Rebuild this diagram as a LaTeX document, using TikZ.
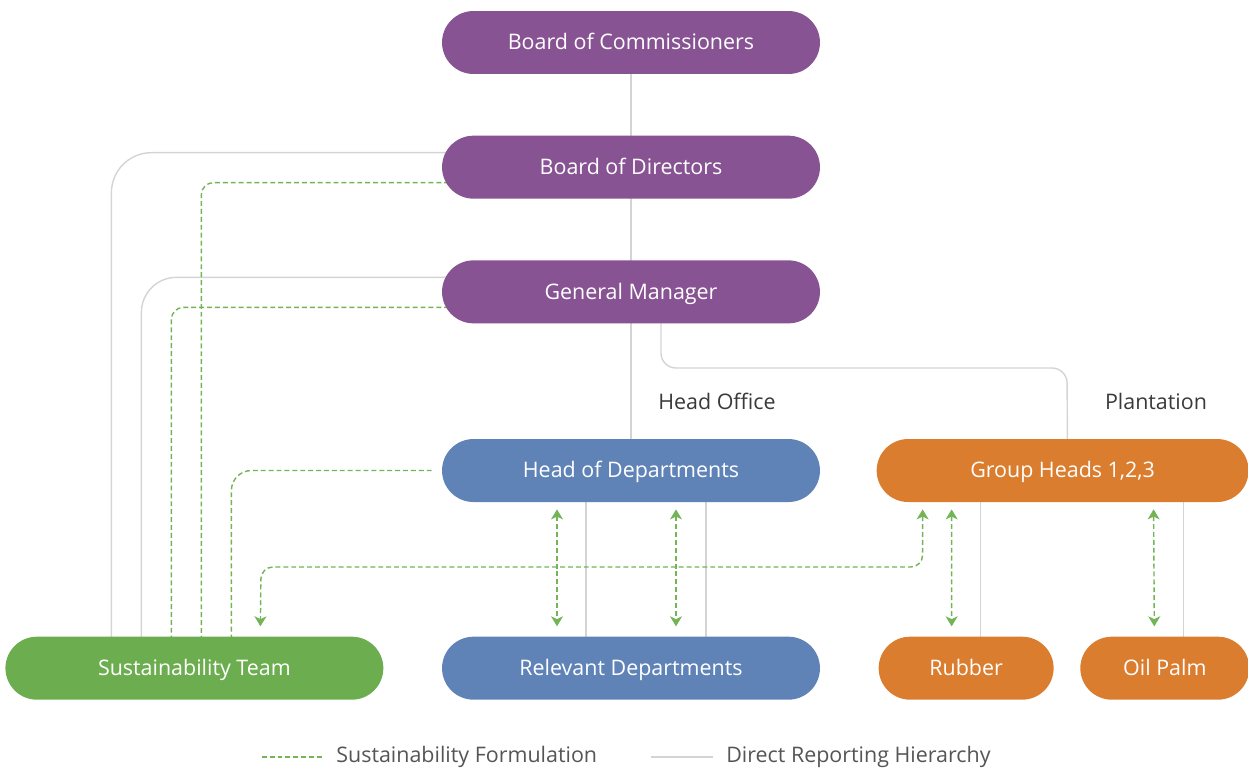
\documentclass[tikz,border=0pt]{standalone}
\usepackage{fontspec}
\setmainfont{Open Sans}
\usetikzlibrary{arrows.meta, positioning, backgrounds}
\definecolor{boardpurple}{HTML}{875393}
\definecolor{officeblue}{HTML}{6083B7}
\definecolor{estateorange}{HTML}{DB7D2E}
\definecolor{teamgreen}{HTML}{6CAD50}
\definecolor{formgreen}{HTML}{72B456}
\definecolor{reportgray}{HTML}{D4D4D4}
\definecolor{labelgray}{HTML}{3A3A3A}
\definecolor{legendgray}{HTML}{555555}
\tikzset{%
    unitbox/.style = {rectangle, rounded corners=0.63cm, inner sep=0pt,
        minimum height=1.26cm, minimum width=7.56cm, text=white,
        text height=1.08em, text depth=0.24em,
        font=\fontsize{12.2}{14}\selectfont},
    board/.style = {unitbox, fill=boardpurple},
    office/.style = {unitbox, fill=officeblue},
    estate/.style = {unitbox, fill=estateorange},
    team/.style = {unitbox, fill=teamgreen},
    reportline/.style = {draw=reportgray, line width=0.8pt},
    formline/.style = {draw=formgreen, line width=0.8pt, dash pattern=on 2.8pt off 1.7pt},
    twoway/.style = {{Stealth[length=5.7pt, width=6.8pt, inset=1.6pt]}-{Stealth[length=5.7pt, width=6.8pt, inset=1.6pt]}},
    sidelabel/.style = {text=labelgray, font=\fontsize{12.2}{14}\selectfont},
    legendtext/.style = {text=legendgray, inner sep=0pt, anchor=west,
        font=\fontsize{12.2}{14}\selectfont},
}
\begin{document}
\begin{tikzpicture}[x=0.02cm, y=-0.02cm]
    \useasboundingbox (0,0) rectangle (1248,770);
    \node [board] (boc) at (631,42.5) {Board of Commissioners};
    \node [board, below=1.22cm of boc] (bod) {Board of Directors};
    \node [board, below=1.22cm of bod] (gm) {General Manager};
    \node [office, below=2.3cm of gm] (hod) {Head of Departments};
    \node [office, below=2.68cm of hod] (rd) {Relevant Departments};
    \node [estate, minimum width=7.44cm, right=1.12cm of hod] (gh) {Group Heads 1,2,3};
    \node [team, left=1.16cm of rd] (sust) {Sustainability Team};
    \node [estate, minimum width=3.5cm, right=1.16cm of rd] (rubber) {Rubber};
    \node [estate, minimum width=3.38cm, right=0.52cm of rubber] (palm) {Oil Palm};
    \node [sidelabel] (hoff) at (717,401) {Head Office};
    \node [sidelabel] (plant) at (1156,401) {Plantation};

    % reporting lines, behind the boxes
    \begin{scope}[on background layer]
    \draw [reportline] (boc) -- (hod);
    \draw [reportline, rounded corners=0.8cm] ([yshift=0.29cm]bod.center) -| ([xshift=-1.66cm]sust.center);
    \draw [reportline, rounded corners=0.7cm] ([yshift=0.29cm]gm.center) -| ([xshift=-1.06cm]sust.center);
    \draw [reportline, rounded corners=0.3cm] ([xshift=0.6cm]gm.center) |- (1067,368) -- ([xshift=0.1cm]gh.center);
    \draw [reportline] ([xshift=-0.9cm]hod.center) -- ([xshift=-0.9cm]rd.center);
    \draw [reportline] ([xshift=1.5cm]hod.center) -- ([xshift=1.5cm]rd.center);
    \draw [reportline] ([xshift=-1.64cm]gh.center) |- (rubber.center);
    \draw [reportline] ([xshift=2.42cm]gh.center) |- (palm.center);
    % sustainability lines into the team
    \draw [formline, rounded corners=0.24cm] ([yshift=-0.31cm]bod.center) -| ([xshift=0.14cm]sust.center);
    \draw [formline, rounded corners=0.24cm] ([yshift=-0.31cm]gm.center) -| ([xshift=-0.46cm]sust.center);
    \draw [formline, rounded corners=0.4cm] ([xshift=-0.2cm]hod.west) -| ([xshift=0.74cm]sust.center);
    \end{scope}

    % two-way formulation arrows
    \draw [formline, twoway] ([xshift=-1.48cm, yshift=-0.14cm]hod.south) -- ([xshift=-1.48cm, yshift=0.2cm]rd.north);
    \draw [formline, twoway] ([xshift=0.9cm, yshift=-0.14cm]hod.south) -- ([xshift=0.9cm, yshift=0.2cm]rd.north);
    \draw [formline, twoway] ([xshift=-2.22cm, yshift=-0.14cm]gh.south) -- ([xshift=-0.29cm, yshift=0.2cm]rubber.north);
    \draw [formline, twoway] ([xshift=1.82cm, yshift=-0.14cm]gh.south) -- ([xshift=-0.21cm, yshift=0.2cm]palm.north);
    \draw [formline, twoway, rounded corners=0.24cm] ([xshift=-2.8cm, yshift=-0.14cm]gh.south) |- (261,567) -- ([xshift=1.32cm, yshift=0.2cm]sust.north);

    % legend
    \node [legendtext] (legform) at (336,757) {Sustainability Formulation};
    \node [legendtext] (legrep) at (726,757) {Direct Reporting Hierarchy};
    \draw [formline] ([xshift=-0.28cm]legform.west) -- ++(-1.24cm,0);
    \draw [reportline] ([xshift=-0.26cm]legrep.west) -- ++(-1.24cm,0);
\end{tikzpicture}
\end{document}
